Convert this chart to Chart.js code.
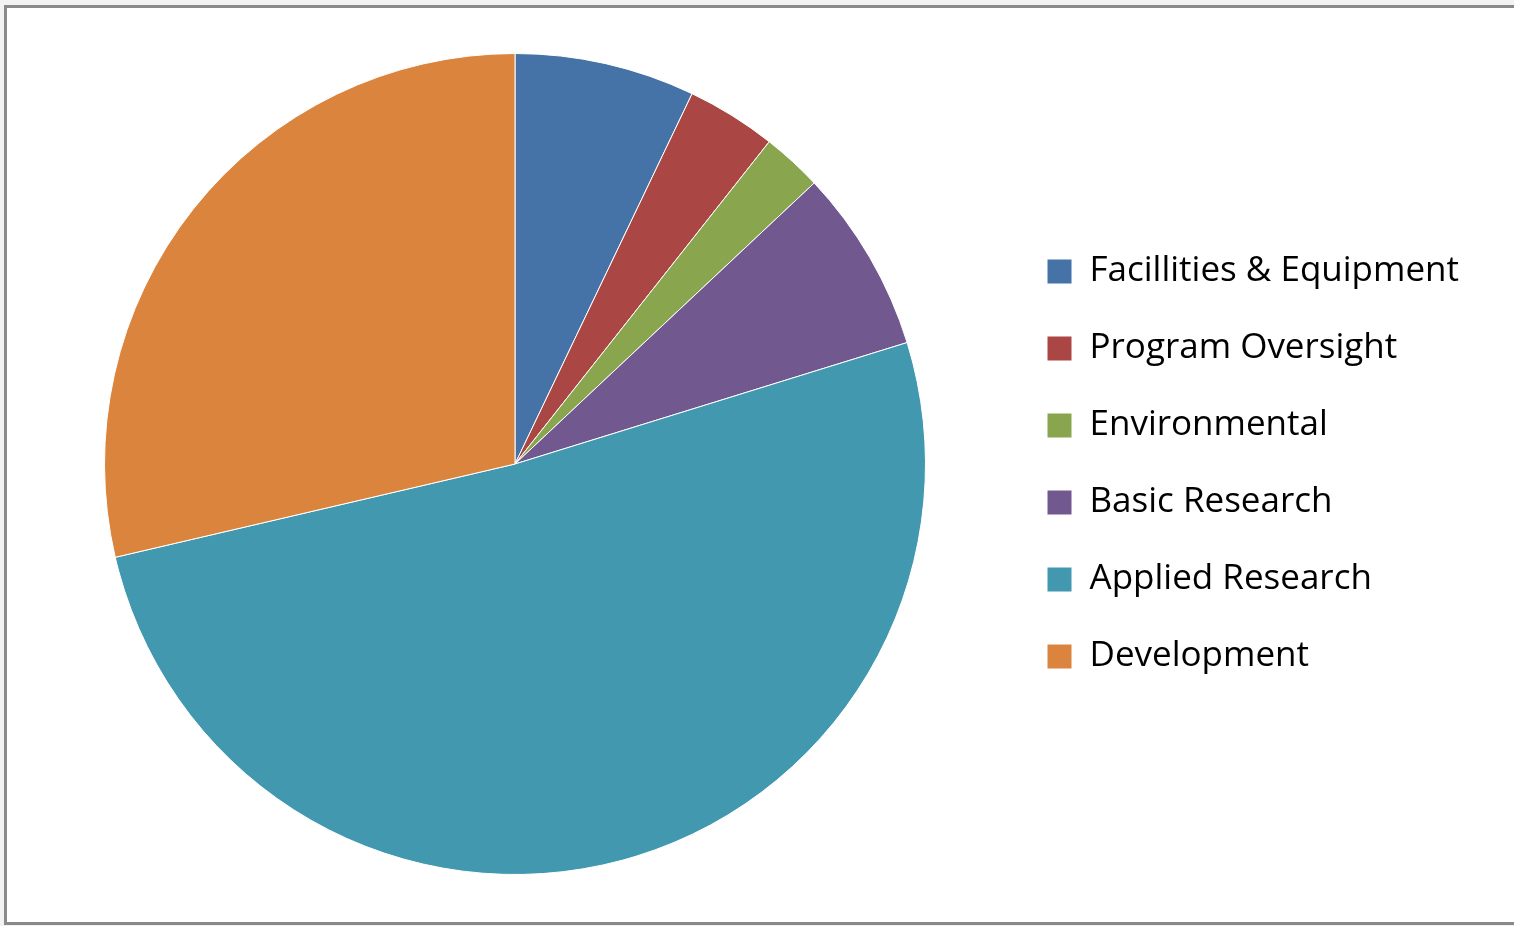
<!DOCTYPE html>
<html>
<head>
<meta charset="utf-8">
<script src="https://cdn.jsdelivr.net/npm/chart.js@4"></script>
<style>
  body { margin: 0; background: #f2f2f2; overflow: hidden; }
  #frame { position: absolute; left: 4px; top: 5px; width: 1530px; height: 914px; background: #fff; border: 3px solid #898989; }
  #wrap { position: absolute; left: 0; top: 0; width: 1514px; height: 926px; }
</style>
</head>
<body>
<div id="frame"></div>
<div id="wrap"><canvas id="graphic"></canvas></div>
<script>
// categories and their shares (percent)
const categories = ["Facillities & Equipment", "Program Oversight", "Environmental", "Basic Research", "Applied Research", "Development"];
const shares = [7.10, 3.53, 2.37, 7.22, 51.13, 28.65];
const sliceColors = ["#4572A7", "#AA4643", "#89A54E", "#71588F", "#4198AF", "#DB843D"];

const legendFont = { family: "'Open Sans', sans-serif", size: 35 };
const boxSize = 25;
const legendPad = 42;
const boxX = 1047;

const config = {
    type: 'pie',
    data: {
        labels: categories,
        datasets: [{
            data: shares,
            backgroundColor: sliceColors,
            borderColor: '#ffffff',
            borderWidth: 1
        }]
    },
    options: {
        responsive: true,
        maintainAspectRatio: false,
        animation: false,
        layout: { padding: { top: 53, bottom: 51, left: 26, right: 40 } },
        plugins: {
            tooltip: { enabled: false },
            legend: {
                position: 'right',
                align: 'center',
                labels: {
                    font: legendFont,
                    color: '#000000',
                    boxWidth: boxSize,
                    boxHeight: boxSize,
                    padding: legendPad
                }
            }
        }
    }
};
const myChart = new Chart(document.getElementById("graphic"), config);

// move the legend so its boxes start at boxX, and keep the pie centred at x=515
const pad = myChart.options.layout.padding;
const shift = boxX - (myChart.legend.left + legendPad);
config.options.layout.padding.right = pad.right - shift;
config.options.layout.padding.left = 1030 - (boxX - legendPad);
myChart.update();
</script>
</body>
</html>
